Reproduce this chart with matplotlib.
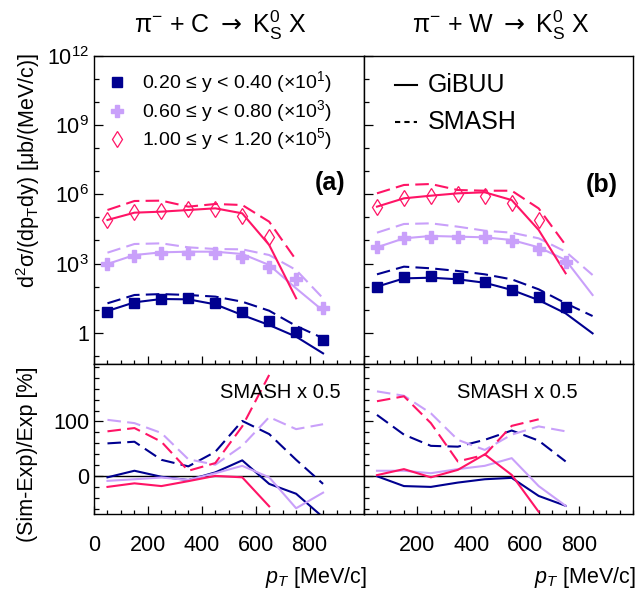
import math
import matplotlib
matplotlib.use('Agg')
import matplotlib.pyplot as plt
from matplotlib.lines import Line2D
from matplotlib.ticker import FixedLocator, FuncFormatter, NullFormatter

plt.rcParams['font.family'] = ['Liberation Sans', 'DejaVu Sans']
plt.rcParams['mathtext.fontset'] = 'custom'
plt.rcParams['mathtext.rm'] = 'Liberation Sans'
plt.rcParams['mathtext.it'] = 'Liberation Sans:italic'
plt.rcParams['mathtext.bf'] = 'Liberation Sans:bold'
plt.rcParams['mathtext.sf'] = 'DejaVu Sans'

# ---------------- data ----------------
pt = [50, 150, 250, 350, 450, 550, 650, 750, 850]   # MeV/c bin centres

bin_labels = ['0.20 ≤ y < 0.40 (×10$^{1}$)',
              '0.60 ≤ y < 0.80 (×10$^{3}$)',
              '1.00 ≤ y < 1.20 (×10$^{5}$)']
scales = [1e1, 1e3, 1e5]

# pi- + C (unscaled)
C_exp = [[0.83, 1.91, 2.93, 3.13, 2.03, 0.78, 0.33, 0.106, 0.049],
         [0.96, 2.20, 2.78, 2.97, 2.78, 1.87, 0.736, 0.208, 0.0116],
         [0.773, 1.66, 1.96, 2.24, 2.31, 1.15, 0.137]]
C_gibuu = [[0.885, 2.10, 2.93, 2.83, 1.72, 0.594, 0.219, 0.0686, 0.0130],
           [0.96, 2.35, 3.07, 3.28, 3.28, 2.60, 0.869, 0.0847, 0.00914],
           [0.773, 1.60, 1.77, 2.09, 2.47, 1.50, 0.064, 0.000314]]
C_smash = [[1.91, 4.37, 4.79, 4.37, 3.72, 2.24, 0.912, 0.20, 0.0589],
           [2.97, 7.05, 7.53, 5.06, 4.28, 4.14, 2.35, 0.528, 0.0314],
           [2.09, 5.13, 5.31, 2.92, 3.80, 3.44, 0.653, 0.0143]]

# pi- + W (unscaled)
W_exp = [[10.0, 27.2, 29.0, 24.6, 15.5, 7.19, 3.47, 1.36],
         [5.06, 12.4, 14.7, 14.7, 14.7, 9.48, 4.28, 1.13],
         [2.92, 6.70, 8.71, 9.95, 8.71, 4.34, 0.773]]
W_gibuu = [[10.0, 22.9, 24.5, 20.9, 14.8, 7.24, 2.63, 0.70, 0.0955],
           [5.06, 12.4, 15.7, 14.7, 13.7, 10.5, 5.06, 1.43, 0.0437],
           [2.92, 6.70, 8.71, 11.0, 12.2, 5.62, 0.285, 0.0038]]
W_smash = [[34.3, 73.6, 62.4, 47.9, 34.3, 20.8, 7.69, 1.91, 0.537],
           [21.8, 51.8, 55.3, 39.7, 26.6, 21.8, 12.4, 3.29, 0.321],
           [11.0, 25.3, 27.9, 15.3, 14.3, 14.3, 2.45, 0.0631]]

# (Sim-Exp)/Exp [%]
C_ratio_gibuu = [[-2, 10, -1, -7, 7, 29, -14, -32, -75],
                 [-8.5, -5.5, -2.4, -6.7, 5.5, 19, -2, -58.5, -30],
                 [-19.5, -13, -18, -9, 0.6, -2, -55]]
C_ratio_smash = [[60, 63, 30, 18, 44.5, 101, 77, 30, -14],
                 [103, 97, 79, 31, 21, 55.5, 108, 86, 95],
                 [82, 88, 63, 10, 24, 91, 185]]
W_ratio_gibuu = [[0, -18, -19.5, -11.6, -5.5, -3, -36, -54],
                 [10, 10, 5.5, 13, 19, 33, -18, -54],
                 [2, 13, -2, 11.6, 40, 2.4, -65]]
W_ratio_smash = [[112, 76, 55.5, 54, 66.5, 83.5, 65, 27],
                 [155, 147, 115, 66.5, 48, 76, 91, 82],
                 [137, 146, 97, 27, 39, 92, 104]]

titles = [r'$\mathrm{\pi}^{-}$ + C $\mathsf{\rightarrow}$ $\mathrm{K}^{0}_{\mathrm{S}}$ X',
          r'$\mathrm{\pi}^{-}$ + W $\mathsf{\rightarrow}$ $\mathrm{K}^{0}_{\mathrm{S}}$ X']

# ---------------- style ----------------
colors = ['#000090', '#c9a0fa', '#ff1466']
markers = ['s', 'P', 'd']
msizes = [7.5, 9, 8]
DASH = (6.5, 3)

W, H = 644, 594
fig = plt.figure(figsize=(W / 100, H / 100), dpi=100)

x_left = [94, 363.5]
pw = 269.5
top_y0, top_y1 = 55.7, 364
bot_y0, bot_y1 = 364, 514


def px_axes(x0, y0, y1):
    return fig.add_axes([x0 / W, (H - y1) / H, pw / W, (y1 - y0) / H])


TICK_FS = 15.5

def style_common(ax):
    for s in ax.spines.values():
        s.set_linewidth(1.0)
    ax.tick_params(which='both', direction='in', top=False, right=False,
                   labelsize=TICK_FS)
    ax.tick_params(axis='y', which='major', length=6.5, width=0.9, pad=3.5)
    ax.tick_params(axis='y', which='minor', length=3.7, width=0.9)
    ax.tick_params(axis='x', which='major', length=5.5, width=0.9, pad=15)
    ax.tick_params(axis='x', which='minor', length=3, width=0.9)
    ax.set_xlim(0, 1000)
    ax.xaxis.set_minor_locator(FixedLocator(list(range(0, 1001, 50))))


def logfmt(v, pos):
    e = int(round(math.log10(v)))
    return '1' if e == 0 else r'$10^{%d}$' % e


data_sets = [(C_exp, C_gibuu, C_smash, C_ratio_gibuu, C_ratio_smash),
             (W_exp, W_gibuu, W_smash, W_ratio_gibuu, W_ratio_smash)]

for p in range(2):
    exp_, gib_, sma_, rg_, rs_ = data_sets[p]
    axt = px_axes(x_left[p], top_y0, top_y1)
    axb = px_axes(x_left[p], bot_y0, bot_y1)
    style_common(axt)
    style_common(axb)

    # ---- top panel ----
    axt.set_yscale('log')
    axt.set_ylim(0.045, 1e12)
    axt.yaxis.set_major_locator(FixedLocator([1, 1e3, 1e6, 1e9, 1e12]))
    axt.yaxis.set_minor_locator(FixedLocator([10.0 ** k for k in range(-1, 12)]))
    axt.yaxis.set_minor_formatter(NullFormatter())
    axt.yaxis.set_major_formatter(FuncFormatter(logfmt))
    axt.xaxis.set_major_locator(FixedLocator([0, 200, 400, 600, 800]))
    axt.tick_params(axis='x', labelbottom=False)
    if p == 1:
        axt.tick_params(axis='y', labelleft=False)

    for i in range(3):
        c = colors[i]
        s = scales[i]
        n = len(gib_[i])
        axt.plot(pt[:n], [v * s for v in gib_[i]], color=c, lw=1.5, zorder=2)
        n = len(sma_[i])
        axt.plot(pt[:n], [v * s for v in sma_[i]], color=c, lw=1.5,
                 dashes=DASH, zorder=2)
        n = len(exp_[i])
        if markers[i] == 'd':
            axt.plot(pt[:n], [v * s for v in exp_[i]], ls='none', marker='d',
                     ms=msizes[i], mfc='none', mec=c, mew=0.9, zorder=3)
        else:
            axt.plot(pt[:n], [v * s for v in exp_[i]], ls='none',
                     marker=markers[i], ms=msizes[i], color=c, mec=c, zorder=3)

    # ---- ratio panel ----
    axb.set_ylim(-69, 205)
    axb.yaxis.set_major_locator(FixedLocator([0, 100]))
    axb.yaxis.set_minor_locator(FixedLocator(list(range(-60, 201, 20))))
    if p == 0:
        axb.xaxis.set_major_locator(FixedLocator([0, 200, 400, 600, 800]))
    else:
        axb.xaxis.set_major_locator(FixedLocator([200, 400, 600, 800]))
        axb.tick_params(axis='y', labelleft=False)
    axb.axhline(0, color='black', lw=1.0, zorder=1)
    for i in range(3):
        c = colors[i]
        n = len(rg_[i])
        axb.plot(pt[:n], rg_[i], color=c, lw=1.5, zorder=2)
        n = len(rs_[i])
        axb.plot(pt[:n], rs_[i], color=c, lw=1.5, dashes=DASH, zorder=2)
    axb.text(0.69 if p == 0 else 0.571, 0.813, 'SMASH x 0.5',
             transform=axb.transAxes, ha='center', va='center', fontsize=14.5)

    axt.text(0.931 if p == 0 else 0.944, 0.587 if p == 0 else 0.58,
             '(a)' if p == 0 else '(b)', transform=axt.transAxes,
             ha='right', va='center', fontsize=18, fontweight='bold')

    if p == 0:
        ys = [0.915, 0.821, 0.729]
        for i in range(3):
            if markers[i] == 'd':
                axt.plot([0.085], [ys[i]], transform=axt.transAxes, ls='none',
                         marker='d', ms=msizes[i], mfc='none', mec=colors[i],
                         mew=0.9, clip_on=False)
            else:
                axt.plot([0.085], [ys[i]], transform=axt.transAxes, ls='none',
                         marker=markers[i], ms=msizes[i], color=colors[i],
                         clip_on=False)
            axt.text(0.178, ys[i], bin_labels[i], transform=axt.transAxes,
                     ha='left', va='center', fontsize=14)
    else:
        axt.add_line(Line2D([0.117, 0.199], [0.905, 0.905], color='black',
                            lw=1.5, transform=axt.transAxes))
        axt.add_line(Line2D([0.117, 0.199], [0.786, 0.786], color='black',
                            lw=1.5, dashes=(2.5, 2), transform=axt.transAxes))
        axt.text(0.239, 0.905, 'GiBUU', transform=axt.transAxes,
                 ha='left', va='center', fontsize=18)
        axt.text(0.239, 0.786, 'SMASH', transform=axt.transAxes,
                 ha='left', va='center', fontsize=18)

    fig.text((x_left[p] + pw + 3) / W, (H - 578) / H, r'$p_{T}$ [MeV/c]',
             ha='right', va='center', fontsize=15.5)

fig.text(220 / W, (H - 25) / H, titles[0], ha='center', va='center', fontsize=18)
fig.text(501 / W, (H - 25) / H, titles[1], ha='center', va='center', fontsize=18)

fig.text(28 / W, (H - 53) / H,
         r'd$^{2}$σ/(dp$_{\mathrm{T}}$dy) [μb/(MeV/c)]',
         rotation=90, ha='center', va='top', fontsize=15.5)
fig.text(28 / W, (H - 366) / H, '(Sim-Exp)/Exp [%]',
         rotation=90, ha='center', va='top', fontsize=15.5)

fig.savefig('out.png', dpi=100)
